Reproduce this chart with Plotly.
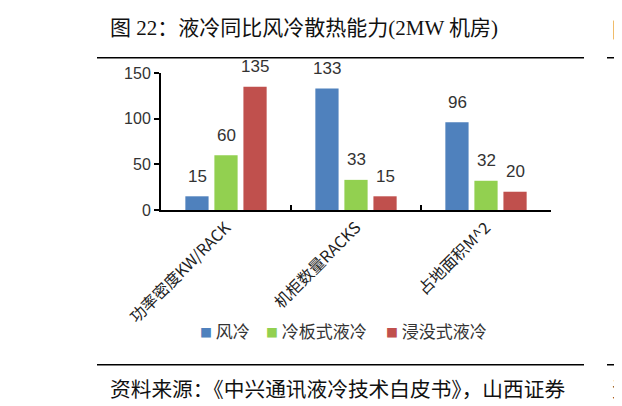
import plotly.graph_objects as go

# Data
categories = ['功率密度KW/RACK', '机柜数量RACKS', '占地面积M^2']
series_names = ['风冷', '冷板式液冷', '浸没式液冷']
air_cooling = [15, 133, 96]
cold_plate = [60, 33, 32]
immersion = [135, 15, 20]

colors = ['#4F81BD', '#92D050', '#C0504D']
# page body has an 8px margin, so the figure is drawn 8px in from the window corner
OFF = 8
W, H = 622 - OFF, 406 - OFF
# plot area in window pixels
L, R, T, B = 161, 551, 72.7, 210


def px(x):
    return (x - L) / (R - L)


def py(y):
    return (B - y) / (B - T)


fig = go.Figure()
all_series = [air_cooling, cold_plate, immersion]
for name, vals, c in zip(series_names, all_series, colors):
    fig.add_trace(go.Bar(x=categories, y=vals, name=name, marker_color=c,
                         marker_line_width=0, showlegend=False))

# data labels above the bars
shifts = [-29, 0, 29]
for vals, dx in zip(all_series, shifts):
    for cat, v in zip(categories, vals):
        fig.add_annotation(x=cat, y=v, xref='x', yref='y', text=str(v),
                           showarrow=False, xshift=dx, yshift=20,
                           font=dict(family='Liberation Sans, Arial', size=17, color='#333333'))

# legend drawn as small squares + labels
legend_x = [198, 264, 384]
for name, c, lx in zip(series_names, colors, legend_x):
    fig.add_annotation(x=px(lx), y=py(331), xref='paper', yref='paper', xanchor='left', yanchor='middle',
                       text='<span style="color:%s;font-size:12px">■</span> %s' % (c, name),
                       showarrow=False,
                       font=dict(family='Noto Sans CJK SC', size=17, color='#333333'))

# title, source and partial next column
fig.add_annotation(x=px(108), y=py(28), xref='paper', yref='paper', xanchor='left', yanchor='middle',
                   text='图 22：液冷同比风冷散热能力(2MW 机房)', showarrow=False,
                   font=dict(family='Liberation Serif, Noto Sans CJK SC', size=21, color='#111111'))
fig.add_annotation(x=px(108), y=py(388), xref='paper', yref='paper', xanchor='left', yanchor='middle',
                   text='资料来源：《中兴通讯液冷技术白皮书》，山西证券', showarrow=False,
                   font=dict(family='Noto Sans CJK SC', size=20.7, color='#111111'))
fig.add_annotation(x=px(610), y=py(28), xref='paper', yref='paper', xanchor='left', yanchor='middle',
                   text='图', showarrow=False,
                   font=dict(family='Noto Sans CJK SC', size=21, color='#111111'))
fig.add_annotation(x=px(610), y=py(388), xref='paper', yref='paper', xanchor='left', yanchor='middle',
                   text='资', showarrow=False,
                   font=dict(family='Noto Sans CJK SC', size=20.7, color='#111111'))

# horizontal rules
for yy in [57.5, 365]:
    fig.add_shape(type='line', xref='paper', yref='paper', x0=px(97), x1=px(584), y0=py(yy), y1=py(yy),
                  line=dict(color='#000000', width=1.5))
    fig.add_shape(type='line', xref='paper', yref='paper', x0=px(607), x1=px(640), y0=py(yy), y1=py(yy),
                  line=dict(color='#000000', width=1.5))

fig.update_layout(
    width=W, height=H,
    margin=dict(l=L - OFF, r=622 - R, t=T - OFF, b=406 - B),
    paper_bgcolor='white', plot_bgcolor='white',
    barmode='group', bargap=0.33, bargroupgap=0.2,
    xaxis=dict(showline=True, linecolor='#000000', linewidth=2,
               ticks='inside', ticklen=5, tickcolor='#000000', tickwidth=2,
               tickson='boundaries', tickangle=-45,
               tickfont=dict(family='Noto Sans CJK SC', size=16, color='#222222')),
    yaxis=dict(range=[0, 150], tickvals=[0, 50, 100, 150], showgrid=False,
               showline=True, linecolor='#000000', linewidth=2,
               ticks='outside', ticklen=5, tickcolor='#000000', tickwidth=2,
               zeroline=False,
               tickfont=dict(family='Liberation Sans, Arial', size=16, color='#333333')),
)

fig.write_html("out.html")
